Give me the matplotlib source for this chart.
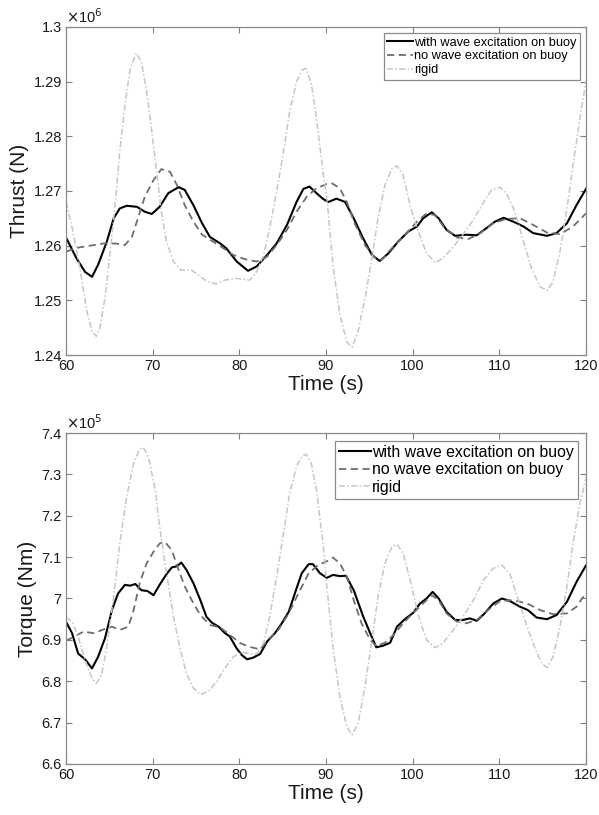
import matplotlib
matplotlib.use("Agg")
import matplotlib.pyplot as plt
from matplotlib.ticker import FuncFormatter

plt.rcParams["font.family"] = ["Liberation Sans", "DejaVu Sans"]

labels = ["with wave excitation on buoy", "no wave excitation on buoy", "rigid"]

# thrust, N (units of 1e6)
thr_wave_t = [60, 61.2, 62.2, 63, 63.7, 64.7, 65.5, 66.2, 67, 68.2, 69.1, 69.9, 70.8,
              71.8, 73, 73.7, 74.7, 75.7, 76.6, 77.8, 78.5, 79.7, 81, 82, 83.2, 84.3,
              85.5, 86.6, 87.4, 88.1, 88.9, 89.7, 90.3, 91.2, 92.2, 93.2, 94.3, 95.3,
              96.2, 97.2, 98.3, 99.5, 100.5, 101.2, 102.2, 103, 103.9, 104.9, 106.2,
              107.4, 108.5, 109.5, 110.5, 111.6, 112.8, 113.9, 115.5, 116.6, 117.8,
              118.9, 120]
thr_wave = [1.2615, 1.2577, 1.2552, 1.2543, 1.2565, 1.2607, 1.2650, 1.2668, 1.2673,
            1.2671, 1.2662, 1.2658, 1.2671, 1.2696, 1.2707, 1.2702, 1.2674, 1.2641,
            1.2616, 1.2604, 1.2595, 1.2571, 1.2554, 1.2562, 1.2583, 1.2604, 1.2638,
            1.2680, 1.2704, 1.2708, 1.2696, 1.2685, 1.2680, 1.2686, 1.2680, 1.2650,
            1.2613, 1.2583, 1.2572, 1.2586, 1.2607, 1.2626, 1.2635, 1.2650, 1.2661,
            1.2650, 1.2629, 1.2618, 1.2620, 1.2619, 1.2632, 1.2644, 1.2651, 1.2644,
            1.2635, 1.2623, 1.2618, 1.2623, 1.2641, 1.2674, 1.2704]

thr_nowave_t = [60, 61.2, 62.8, 64.3, 65.7, 66.8, 67.6, 68.3, 69.1, 70.1, 71, 72, 72.8,
                73.7, 74.7, 75.7, 77, 78.2, 79.3, 80.7, 82, 83.2, 84.3, 85.5, 86.6,
                87.8, 88.9, 90.1, 90.7, 91.6, 92.4, 93.3, 94.5, 95.7, 96.4, 97.4, 98.9,
                100.5, 101.6, 102.6, 103.7, 105.1, 106.4, 107.8, 109.3, 110.8, 112.4,
                113.9, 115.5, 117, 118.5, 120]
thr_nowave = [1.2589, 1.2596, 1.2600, 1.2604, 1.2604, 1.2601, 1.2616, 1.2650, 1.2690,
              1.2720, 1.2740, 1.2735, 1.2711, 1.2674, 1.2644, 1.2620, 1.2607, 1.2595,
              1.2583, 1.2575, 1.2571, 1.2580, 1.2601, 1.2629, 1.2662, 1.2690, 1.2705,
              1.2713, 1.2714, 1.2705, 1.2680, 1.2641, 1.2601, 1.2577, 1.2574, 1.2592,
              1.2616, 1.2644, 1.2659, 1.2656, 1.2632, 1.2615, 1.2612, 1.2623, 1.2641,
              1.2649, 1.2650, 1.2638, 1.2624, 1.2621, 1.2635, 1.2659]

thr_rigid_t = [60, 60.8, 61.6, 62.4, 63, 63.5, 63.9, 64.5, 65.1, 65.7, 66.2, 66.8, 67.4,
               68.1, 68.7, 69.3, 69.9, 70.5, 71, 71.6, 72.4, 73.3, 74.5, 75.5, 76.4,
               77.3, 78.3, 79.7, 81.2, 82, 82.8, 83.5, 84.3, 85.1, 85.8, 86.6, 87.2,
               87.7, 88.3, 88.9, 89.7, 90.1, 90.8, 91.6, 92.4, 93, 93.7, 94.5, 95.3,
               96, 96.8, 97.6, 98.2, 98.9, 99.7, 100.5, 101.6, 102.6, 103.5, 104.7,
               105.8, 107, 108.2, 109.1, 110.1, 110.8, 111.8, 112.8, 113.7, 114.7,
               115.5, 116.2, 117, 117.8, 118.5, 119.3, 120]
thr_rigid = [1.2680, 1.2626, 1.2559, 1.2480, 1.2443, 1.2434, 1.2449, 1.2504, 1.2589,
             1.2680, 1.2772, 1.2857, 1.2924, 1.2952, 1.2937, 1.2882, 1.2809, 1.2729,
             1.2662, 1.2607, 1.2571, 1.2555, 1.2555, 1.2543, 1.2534, 1.2530, 1.2537,
             1.2540, 1.2537, 1.2552, 1.2583, 1.2632, 1.2699, 1.2772, 1.2845, 1.2900,
             1.2921, 1.2924, 1.2897, 1.2833, 1.2729, 1.2687, 1.2565, 1.2474, 1.2424,
             1.2414, 1.2443, 1.2504, 1.2577, 1.2650, 1.2711, 1.2741, 1.2746, 1.2729,
             1.2674, 1.2632, 1.2586, 1.2569, 1.2577, 1.2598, 1.2620, 1.2647, 1.2680,
             1.2702, 1.2707, 1.2696, 1.2662, 1.2607, 1.2559, 1.2525, 1.2518, 1.2534,
             1.2589, 1.2668, 1.2747, 1.2833, 1.2900]

# torque, Nm (units of 1e5)
trq_wave_t = [60, 60.7, 61.4, 62.2, 63, 63.7, 64.5, 65.3, 66, 66.8, 67.4, 68, 68.7,
              69.4, 70.1, 70.8, 71.6, 72.2, 72.8, 73.3, 73.9, 74.7, 75.5, 76.2, 76.8,
              77.6, 78.3, 78.9, 79.7, 80.3, 80.9, 81.6, 82.4, 83.2, 84.1, 84.9, 85.7,
              86.4, 87.2, 88, 88.5, 89.3, 90.1, 90.8, 91.6, 92.3, 93.2, 94.3, 95.1,
              95.8, 96.6, 97.4, 98.2, 99.1, 100.1, 100.8, 101.6, 102.3, 103, 103.9,
              104.9, 105.8, 106.6, 107.4, 108.3, 109.3, 110.3, 111.2, 112.4, 113.3,
              114.3, 115.5, 116.6, 117.8, 118.9, 120]
trq_wave = [6.944, 6.916, 6.867, 6.853, 6.831, 6.859, 6.904, 6.972, 7.012, 7.033,
            7.031, 7.035, 7.020, 7.018, 7.008, 7.033, 7.059, 7.075, 7.078, 7.087,
            7.069, 7.037, 6.996, 6.956, 6.942, 6.932, 6.917, 6.908, 6.879, 6.863,
            6.853, 6.857, 6.866, 6.896, 6.916, 6.940, 6.968, 7.012, 7.061, 7.083,
            7.083, 7.061, 7.050, 7.057, 7.054, 7.055, 7.020, 6.956, 6.916, 6.882,
            6.886, 6.893, 6.932, 6.950, 6.966, 6.987, 7.000, 7.016, 7.000, 6.968,
            6.948, 6.948, 6.952, 6.946, 6.964, 6.988, 7.000, 6.994, 6.980, 6.972,
            6.954, 6.950, 6.960, 6.992, 7.040, 7.080]

trq_nowave_t = [60, 60.8, 62, 63.2, 64.3, 65.3, 66.2, 67.2, 67.8, 68.5, 69.3, 70.1,
                70.8, 71.4, 72.2, 73, 73.7, 74.5, 75.5, 76.6, 77.8, 78.9, 80.1, 81.2,
                82.4, 83.3, 84.5, 85.7, 86.8, 88, 89.1, 90.1, 90.8, 91.6, 92.4, 93.2,
                94.1, 95.1, 95.8, 96.8, 97.8, 98.9, 100.1, 101.2, 102.2, 103, 103.9,
                105.1, 106.2, 107.4, 108.7, 110.1, 111.6, 113.2, 114.7, 116.2, 117.8,
                118.9, 120]
trq_nowave = [6.898, 6.906, 6.920, 6.916, 6.925, 6.932, 6.924, 6.932, 6.972, 7.037,
              7.085, 7.113, 7.133, 7.137, 7.117, 7.069, 7.029, 6.996, 6.960, 6.936,
              6.930, 6.912, 6.892, 6.883, 6.877, 6.900, 6.924, 6.964, 7.012, 7.061,
              7.081, 7.090, 7.099, 7.085, 7.053, 6.996, 6.940, 6.900, 6.885, 6.893,
              6.912, 6.940, 6.966, 6.988, 7.008, 6.996, 6.964, 6.944, 6.940, 6.948,
              6.972, 6.994, 6.996, 6.988, 6.972, 6.962, 6.964, 6.980, 7.014]

trq_rigid_t = [60, 60.7, 61.4, 62.2, 63, 63.5, 64.1, 64.7, 65.5, 66.2, 67, 67.8, 68.5,
               68.9, 69.5, 70.3, 70.8, 71.6, 72.4, 73.2, 73.9, 74.7, 75.5, 76.4, 77.4,
               78.3, 79.3, 80.3, 81.2, 82, 82.8, 83.5, 84.3, 85.1, 85.8, 86.6, 87.2,
               87.7, 88.3, 88.9, 89.7, 90.1, 90.8, 91.6, 92.4, 93, 93.7, 94.5, 95.3,
               96, 96.8, 97.6, 98.2, 98.9, 99.7, 100.7, 101.6, 102.6, 103.5, 104.7,
               105.8, 107, 108.2, 109.3, 110.3, 111.2, 112.2, 113.2, 114.2, 114.9,
               115.5, 116.2, 117, 117.8, 118.5, 119.3, 120]
trq_rigid = [6.954, 6.944, 6.908, 6.851, 6.807, 6.795, 6.815, 6.883, 7.004, 7.133,
             7.246, 7.327, 7.361, 7.365, 7.343, 7.262, 7.174, 7.061, 6.956, 6.875,
             6.819, 6.783, 6.768, 6.775, 6.799, 6.831, 6.859, 6.870, 6.867, 6.866,
             6.892, 6.956, 7.053, 7.157, 7.254, 7.319, 7.343, 7.349, 7.327, 7.262,
             7.125, 7.029, 6.883, 6.763, 6.690, 6.670, 6.698, 6.787, 6.900, 7.004,
             7.085, 7.125, 7.131, 7.109, 7.045, 6.956, 6.900, 6.881, 6.892, 6.924,
             6.956, 6.996, 7.045, 7.073, 7.081, 7.061, 6.996, 6.932, 6.875, 6.843,
             6.833, 6.859, 6.932, 7.029, 7.133, 7.230, 7.290]

panels = [
    dict(series=[(thr_wave_t, thr_wave), (thr_nowave_t, thr_nowave), (thr_rigid_t, thr_rigid)],
         scale=1e6, exp="6", ylabel="Thrust (N)", ylim=(1.24, 1.30),
         yticks=[1.24, 1.25, 1.26, 1.27, 1.28, 1.29, 1.30], legfs=9.2,
         rect=[0.1102, 0.5644, 0.8681, 0.4025]),
    dict(series=[(trq_wave_t, trq_wave), (trq_nowave_t, trq_nowave), (trq_rigid_t, trq_rigid)],
         scale=1e5, exp="5", ylabel="Torque (Nm)", ylim=(6.6, 7.4),
         yticks=[6.6, 6.7, 6.8, 6.9, 7.0, 7.1, 7.2, 7.3, 7.4], legfs=11.4,
         rect=[0.1102, 0.0626, 0.8681, 0.4061]),
]

styles = [
    dict(color="black", ls="-", lw=1.5),
    dict(color="#6e6e6e", ls=(0, (4, 2.5)), lw=1.3),
    dict(color="#c9c6c2", ls=(0, (4, 1.5, 1, 1.5)), lw=1.1),
]

fig = plt.figure(figsize=(5.99, 8.15), dpi=100)
for p in panels:
    ax = fig.add_axes(p["rect"])
    s = p["scale"]
    for (t, v), lab, st in zip(p["series"], labels, styles):
        ax.plot(t, [x * s for x in v], label=lab, **st)
    ax.set_xlim(60, 120)
    ax.set_ylim(p["ylim"][0] * s, p["ylim"][1] * s)
    ax.set_xticks([60, 70, 80, 90, 100, 110, 120])
    ax.set_yticks([y * s for y in p["yticks"]])
    ax.yaxis.set_major_formatter(FuncFormatter(lambda v, _, s=s: f"{round(v / s, 4):g}"))
    ax.tick_params(direction="in", top=True, right=True, length=4, width=0.8,
                   color="#7f7f7f", labelsize=10.5, labelcolor="#1a1a1a", pad=3)
    for sp in ax.spines.values():
        sp.set_color("#8a8a8a")
        sp.set_linewidth(0.9)
    ax.set_xlabel("Time (s)", fontsize=15, color="#1a1a1a", labelpad=1)
    ax.set_ylabel(p["ylabel"], fontsize=15, color="#1a1a1a", labelpad=3)
    ax.text(0.0, 1.004, r"$\times$10$^{%s}$" % p["exp"], transform=ax.transAxes,
            fontsize=10.5, color="#1a1a1a", ha="left", va="bottom")
    leg = ax.legend(loc="upper right", fontsize=p["legfs"], fancybox=False, framealpha=1,
                    edgecolor="#8a8a8a", handlelength=2.0, handletextpad=0.1,
                    borderpad=0.25, labelspacing=0.15, borderaxespad=0.5)
    leg.get_frame().set_linewidth(0.9)

fig.savefig("out.png", dpi=100)
